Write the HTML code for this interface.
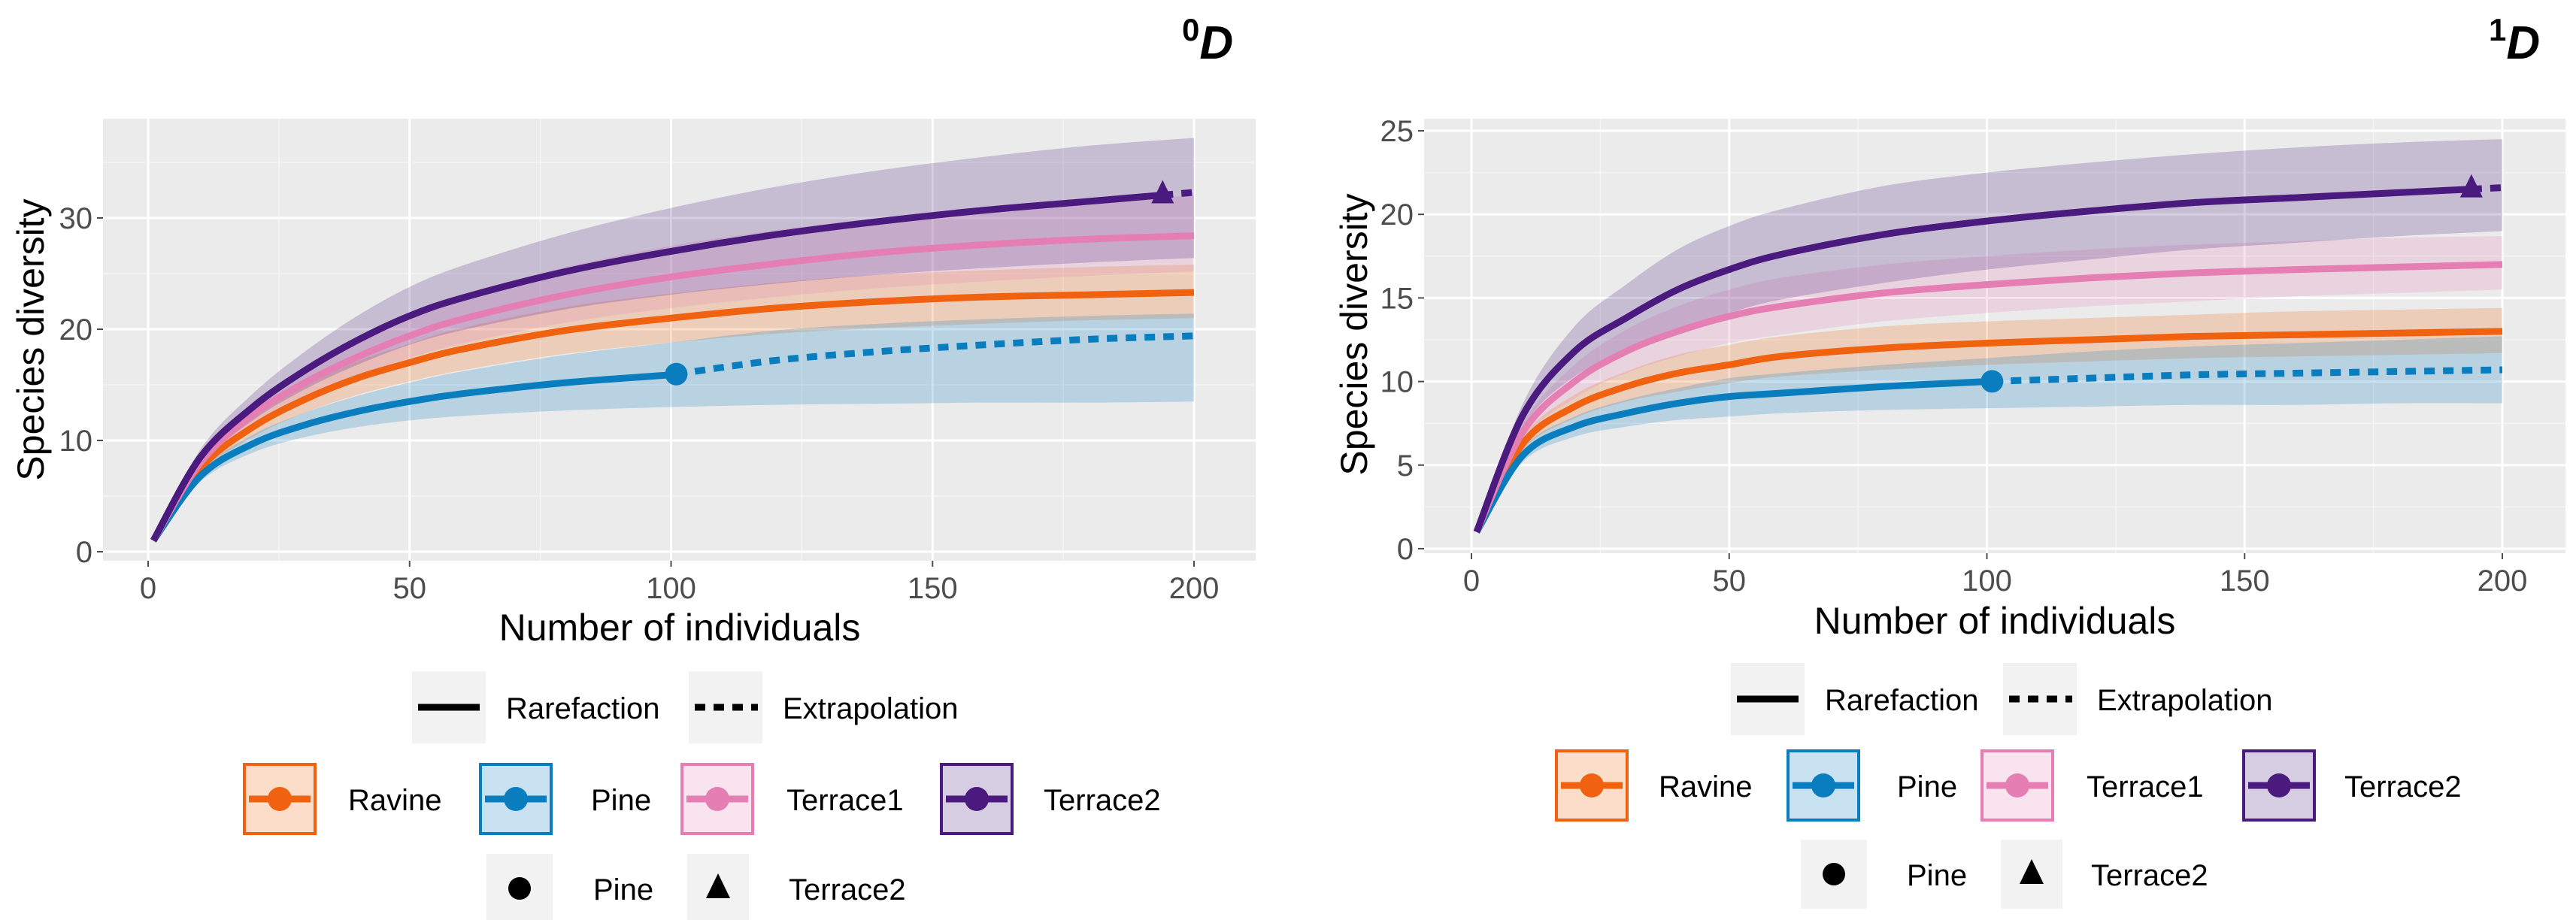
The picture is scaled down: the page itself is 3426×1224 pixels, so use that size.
<!DOCTYPE html>
<html><head><meta charset="utf-8"><style>
html,body{margin:0;padding:0;background:#fff;}
svg{display:block;font-family:"Liberation Sans",Arial,sans-serif;}
</style></head><body>
<svg id="chart" width="3426" height="1224" viewBox="0 0 3426 1224" xmlns="http://www.w3.org/2000/svg"></svg>
<script>
// ---- data ----
const xs = [1,10,20,30,40,50,60,80,100,120,140,160,180,200];
const seriesNames = ["Ravine","Pine","Terrace1","Terrace2"];
const seriesColors = ["#f0620f","#0a7dbf","#e57fb3","#4a1a7f"];
const observedN = [200,101,200,194];
// 0D (richness)
const d0Ravine   = [1,7.5,11.2,13.7,15.6,17,18.2,19.9,21,21.9,22.5,22.9,23.1,23.3];
const d0Pine     = [1,6.8,9.7,11.4,12.6,13.5,14.2,15.2,15.9,17.2,18,18.6,19.1,19.4];
const d0Terrace1 = [1,8,12.3,15.2,17.5,19.4,20.9,23.1,24.7,25.9,26.9,27.6,28.1,28.4];
const d0Terrace2 = [1,8.5,13,16.3,19,21.2,22.8,25.2,27,28.5,29.7,30.7,31.5,32.3];
const d0RavineLo = [1,7,10.3,12.5,14.1,15.3,16.3,17.8,18.8,19.6,20.1,20.5,20.8,21];
const d0RavineHi = [1,8,12.1,14.9,17.1,18.7,20.1,22,23.2,24.2,24.9,25.3,25.6,25.8];
const d0PineLo   = [1,6.3,8.9,10.3,11.2,11.8,12.2,12.7,13,13.2,13.3,13.4,13.4,13.5];
const d0PineHi   = [1,7.3,10.5,12.5,14,15.2,16.2,17.7,18.8,19.9,20.5,20.9,21.2,21.4];
const d0Terrace1Lo = [1,7.4,11.2,13.8,15.8,17.4,18.7,20.6,21.9,22.9,23.7,24.3,24.8,25.2];
const d0Terrace1Hi = [1,8.6,13.4,16.6,19.2,21.4,23.1,25.6,27.5,28.9,30,30.9,31.5,32];
const d0Terrace2Lo = [1,7.8,11.8,14.6,16.8,18.6,19.9,21.8,23.1,24.1,24.9,25.5,26,26.4];
const d0Terrace2Hi = [1,9.2,14.2,18,21.2,23.8,25.7,28.6,30.9,32.8,34.3,35.5,36.5,37.2];
// 1D (Shannon)
const d1Ravine   = [1,6.3,8.5,9.7,10.5,11,11.5,12,12.3,12.5,12.7,12.8,12.9,13];
const d1Pine     = [1,5.6,7.3,8.1,8.7,9.1,9.3,9.7,10,10.2,10.4,10.5,10.6,10.7];
const d1Terrace1 = [1,7,10,11.8,13,13.9,14.5,15.3,15.8,16.2,16.5,16.7,16.85,17];
const d1Terrace2 = [1,8,11.8,13.8,15.5,16.7,17.6,18.8,19.6,20.2,20.7,21,21.3,21.6];
const d1RavineLo = [1,5.9,7.8,8.8,9.4,9.9,10.3,10.7,11,11.2,11.4,11.5,11.6,11.7];
const d1RavineHi = [1,6.7,9.2,10.6,11.6,12.2,12.7,13.3,13.6,13.8,14,14.2,14.3,14.4];
const d1PineLo   = [1,5.2,6.7,7.3,7.7,7.9,8.1,8.3,8.4,8.5,8.6,8.6,8.7,8.7];
const d1PineHi   = [1,6,7.9,8.9,9.6,10.2,10.5,11,11.4,11.8,12.1,12.3,12.5,12.7];
const d1Terrace1Lo = [1,6.5,9,10.5,11.5,12.3,12.8,13.6,14.1,14.5,14.8,15.1,15.3,15.5];
const d1Terrace1Hi = [1,7.5,11,13.1,14.5,15.5,16.2,17,17.5,17.9,18.2,18.4,18.6,18.7];
const d1Terrace2Lo = [1,7.3,10.3,11.8,13.1,14.1,14.9,15.9,16.7,17.3,17.9,18.3,18.7,19];
const d1Terrace2Hi = [1,8.7,13.3,15.8,17.9,19.3,20.3,21.7,22.5,23.1,23.6,24,24.3,24.5];
const xTicks = [0,50,100,150,200];
const d0YTicks = [0,10,20,30];
const d1YTicks = [0,5,10,15,20,25];

const NS="http://www.w3.org/2000/svg";
const svg=document.getElementById('chart');
function el(tag,attrs,parent,txt){const e=document.createElementNS(NS,tag);for(const k in attrs)e.setAttribute(k,attrs[k]);if(txt!==undefined)e.textContent=txt;(parent||svg).appendChild(e);return e;}
// smooth path (Catmull-Rom -> cubic Bezier) through pixel points; cont=true omits initial M
function smooth(P,cont){
  if(P.length<2)return '';
  let d=(cont?'L':'M')+P[0][0]+','+P[0][1];
  for(let i=0;i<P.length-1;i++){
    const p0=P[i-1]||P[i],p1=P[i],p2=P[i+1],p3=P[i+2]||P[i+1];
    const c1=[p1[0]+(p2[0]-p0[0])/6,p1[1]+(p2[1]-p0[1])/6];
    const c2=[p2[0]-(p3[0]-p1[0])/6,p2[1]-(p3[1]-p1[1])/6];
    d+='C'+c1[0]+','+c1[1]+' '+c2[0]+','+c2[1]+' '+p2[0]+','+p2[1];
  }
  return d;
}

function drawPanel(p){
  const g=el('g',{});
  
  
  const sx=v=>p.x0+(v-0)*(p.x200-p.x0)/200;
  const sy=v=>p.y0+(v)*(p.yTop-p.y0)/p.yTopVal;
  const bg=el('rect',{x:p.L,y:p.T,width:p.R-p.L,height:p.B-p.T,fill:'#ebebeb'},g);
  
  
  for(let i=0;i<p.xTicks.length-1;i++){const v=(p.xTicks[i]+p.xTicks[i+1])/2;el('line',{x1:sx(v),x2:sx(v),y1:p.T,y2:p.B,stroke:'#f5f5f5','stroke-width':1.5},g);}
  for(let i=0;i<p.yTicks.length;i++){const v=p.yTicks[i]+p.yStep/2;const y=sy(v);if(y>p.T&&y<p.B)el('line',{x1:p.L,x2:p.R,y1:y,y2:y,stroke:'#f5f5f5','stroke-width':1.5},g);}
  p.xTicks.forEach(v=>{el('line',{x1:sx(v),x2:sx(v),y1:p.T,y2:p.B,stroke:'#fff','stroke-width':3},g);
    el('line',{x1:sx(v),x2:sx(v),y1:p.B,y2:p.B+8,stroke:'#4d4d4d','stroke-width':2},g);
    const t=el('text',{x:sx(v),y:p.B+50,'text-anchor':'middle','font-size':40,fill:'#4d4d4d'},g,String(v));
    });
  p.yTicks.forEach(v=>{const y=sy(v);el('line',{x1:p.L,x2:p.R,y1:y,y2:y,stroke:'#fff','stroke-width':3},g);
    el('line',{x1:p.L-8,x2:p.L,y1:y,y2:y,stroke:'#4d4d4d','stroke-width':2},g);
    const t=el('text',{x:p.L-14,y:y+14,'text-anchor':'end','font-size':40,fill:'#4d4d4d'},g,String(v));
    });
  // bands
  p.series.forEach((s,i)=>{
    const up=xs.map((x,j)=>[sx(x),sy(s.hi[j])]);
    const dn=xs.map((x,j)=>[sx(x),sy(s.lo[j])]).reverse();
    const d=smooth(up,false)+smooth(dn,true)+'Z';
    const b=el('path',{d:d,fill:seriesColors[i],'fill-opacity':0.22},g);
    
    
  });
  // lines
  p.series.forEach((s,i)=>{
    const n=observedN[i];
    let pts=[];xs.forEach((x,j)=>{if(x<=n)pts.push([x,s.v[j]]);});
    let k=xs.findIndex(x=>x>n);let obs=null;
    if(k>0){const t=(n-xs[k-1])/(xs[k]-xs[k-1]);obs=s.v[k-1]+t*(s.v[k]-s.v[k-1]);if(xs[k-1]!==n)pts.push([n,obs]);}
    else obs=s.v[xs.length-1];
    const ln=el('path',{d:smooth(pts.map(q=>[sx(q[0]),sy(q[1])]),false),fill:'none',stroke:seriesColors[i],'stroke-width':9,'stroke-linejoin':'round'},g);
    
    
    if(k>0){let ep=[[n,obs]];xs.forEach((x,j)=>{if(x>n)ep.push([x,s.v[j]]);});
      const el2=el('path',{d:smooth(ep.map(q=>[sx(q[0]),sy(q[1])]),false),fill:'none',stroke:seriesColors[i],'stroke-width':9,'stroke-dasharray':'14 11'},g);
      
      }
    if(s.marker){const cx=sx(n),cy=sy(obs);let m;
      if(s.marker==='circle')m=el('circle',{cx:cx,cy:cy,r:15,fill:seriesColors[i]},g);
      else m=el('path',{d:`M${cx},${cy-20}L${cx+15},${cy+11}L${cx-15},${cy+11}Z`,fill:seriesColors[i]},g);
      
      }
  });
  const xt=el('text',{x:p.xTitleX,y:p.xTitleY,'text-anchor':'middle','font-size':50,fill:'#000'},g,'Number of individuals');
  
  const yt=el('text',{x:0,y:0,'text-anchor':'middle','font-size':50,fill:'#000',transform:`translate(${p.yTitleX},${p.yTitleY}) rotate(-90)`},g,'Species diversity');
  
  const pt=el('text',{x:p.titleX,y:78,'font-size':62,'font-weight':'bold',fill:'#000'},g);
  
  el('tspan',{'font-size':42,dy:-24},pt,p.titleSup);
  el('tspan',{'font-style':'italic',dy:24},pt,'D');
  const lg=p.lg;
  const lt=el('g',{},g);
  el('rect',{x:lg.rX,y:lg.rY-48,width:98,height:96,fill:'#f2f2f2'},lt);
  el('line',{x1:lg.rX+8,x2:lg.rX+90,y1:lg.rY,y2:lg.rY,stroke:'#000','stroke-width':9},lt);
  el('text',{x:lg.rX+125,y:lg.rY+15,'font-size':40},lt,'Rarefaction');
  el('rect',{x:lg.eX,y:lg.rY-48,width:98,height:96,fill:'#f2f2f2'},lt);
  el('line',{x1:lg.eX+8,x2:lg.eX+92,y1:lg.rY,y2:lg.rY,stroke:'#000','stroke-width':9,'stroke-dasharray':'14 11'},lt);
  el('text',{x:lg.eX+125,y:lg.rY+15,'font-size':40},lt,'Extrapolation');
  seriesNames.forEach((nm,i)=>{
    const e=el('g',{},g);
    const bx=lg.cX[i],cy=lg.cY;
    el('rect',{x:bx+2,y:cy-46,width:94,height:92,fill:seriesColors[i],'fill-opacity':0.22,stroke:seriesColors[i],'stroke-width':4},e);
    el('line',{x1:bx+8,x2:bx+90,y1:cy,y2:cy,stroke:seriesColors[i],'stroke-width':9},e);
    el('circle',{cx:bx+49,cy:cy,r:16,fill:seriesColors[i]},e);
    el('text',{x:lg.cT[i],y:cy+15,'font-size':40},e,nm);
  });
  const sh=el('g',{},g);
  el('rect',{x:lg.sX[0],y:lg.sY-46,width:88,height:92,fill:'#f2f2f2'},sh);
  el('circle',{cx:lg.sX[0]+44,cy:lg.sY,r:15,fill:'#000'},sh);
  el('text',{x:lg.sT[0],y:lg.sY+15,'font-size':40},sh,'Pine');
  el('rect',{x:lg.sX[1],y:lg.sY-46,width:82,height:92,fill:'#f2f2f2'},sh);
  el('path',{d:`M${lg.sX[1]+41},${lg.sY-20}L${lg.sX[1]+57},${lg.sY+13}L${lg.sX[1]+25},${lg.sY+13}Z`,fill:'#000'},sh);
  el('text',{x:lg.sT[1],y:lg.sY+15,'font-size':40},sh,'Terrace2');
}

drawPanel({id:'d0',L:137,R:1670,T:158,B:746,x0:197,x200:1588,y0:734,yTop:290,yTopVal:30,
  xTicks:xTicks,yTicks:d0YTicks,yStep:10,xTitleX:904,xTitleY:852,yTitleX:58,yTitleY:452,titleX:1572,titleSup:'0',
  series:[{v:d0Ravine,lo:d0RavineLo,hi:d0RavineHi},{v:d0Pine,lo:d0PineLo,hi:d0PineHi,marker:'circle'},
          {v:d0Terrace1,lo:d0Terrace1Lo,hi:d0Terrace1Hi},{v:d0Terrace2,lo:d0Terrace2Lo,hi:d0Terrace2Hi,marker:'triangle'}],
  lg:{rX:548,eX:916,rY:941,cX:[323,637,905,1250],cT:[463,786,1046,1388],cY:1063,sX:[647,914],sT:[789,1049],sY:1182}});
drawPanel({id:'d1',L:1894,R:3412,T:158,B:736,x0:1957,x200:3328,y0:730,yTop:174,yTopVal:25,
  xTicks:xTicks,yTicks:d1YTicks,yStep:5,xTitleX:2653,xTitleY:843,yTitleX:1818,yTitleY:445,titleX:3310,titleSup:'1',
  series:[{v:d1Ravine,lo:d1RavineLo,hi:d1RavineHi},{v:d1Pine,lo:d1PineLo,hi:d1PineHi,marker:'circle'},
          {v:d1Terrace1,lo:d1Terrace1Lo,hi:d1Terrace1Hi},{v:d1Terrace2,lo:d1Terrace2Lo,hi:d1Terrace2Hi,marker:'triangle'}],
  lg:{rX:2302,eX:2664,rY:930,cX:[2068,2376,2634,2982],cT:[2206,2523,2775,3118],cY:1045,sX:[2395,2661],sT:[2536,2781],sY:1163}});
</script>
</body></html>
